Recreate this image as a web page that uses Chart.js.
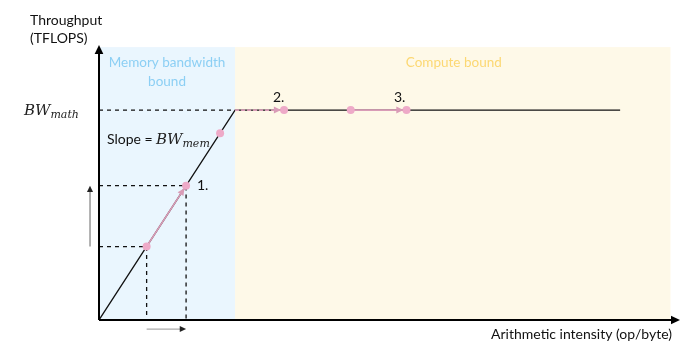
<!DOCTYPE html>
<html lang="en">
<head>
  <meta charset="UTF-8" />
  <title>Roofline</title>
  <script src="https://cdn.jsdelivr.net/npm/chart.js"></script>
  <style>
    body { margin: 0; background: #ffffff; }
    #wrap { width: 700px; height: 355px; }
  </style>
</head>
<body>
  <div id="wrap"><canvas id="roofline"></canvas></div>

  <script>
    // --- data (in chart units: ridge point at x = 10, BW_math = 10) ---
    const roofX = [0, 10, 38.3];
    const roofY = [0, 10, 10];

    const pointX = [3.5, 6.4, 8.9, 13.6, 18.5, 22.6];
    const pointY = [3.5, 6.4, 8.9, 10, 10, 10];

    // pink "move" arrows: from -> to
    const moveFromX = [3.5, 10, 18.5];
    const moveFromY = [3.5, 10, 10];
    const moveToX = [6.4, 13.6, 22.6];
    const moveToY = [6.4, 10, 10];

    // dashed guide lines (null = gap)
    const guideX = [0, 3.5, 3.5, 0, 0, 6.4, 6.4, 0, 0, 10];
    const guideY = [3.5, 3.5, 0, null, 6.4, 6.4, 0, null, 10, 10];

    const regionEdges = [0, 10, 42];
    const regionTop = 13;

    const stepLabels = ["1.", "2.", "3."];
    const stepX = [7.2, 13.2, 22.1];
    const stepY = [6.4, 10.6, 10.6];

    const xMax = 42.7;
    const yMax = 13.1;

    // --- helpers ---
    const toPts = (xs, ys) => xs.map((x, i) => ({ x: x, y: ys[i] }));
    const pink = "#eeaac8";
    const pinkLine = "#d99cb7";
    const font = "Lato, 'Open Sans', sans-serif";

    function arrowHead(ctx, x1, y1, x2, y2, size, color, back) {
      const a = Math.atan2(y2 - y1, x2 - x1);
      const tx = x2 - Math.cos(a) * back, ty = y2 - Math.sin(a) * back;
      ctx.save();
      ctx.fillStyle = color;
      ctx.beginPath();
      ctx.moveTo(tx, ty);
      ctx.lineTo(tx - size * Math.cos(a - 0.45), ty - size * Math.sin(a - 0.45));
      ctx.lineTo(tx - size * Math.cos(a + 0.45), ty - size * Math.sin(a + 0.45));
      ctx.closePath();
      ctx.fill();
      ctx.restore();
    }

    function mathText(ctx, base, sub, x, y, size) {
      ctx.save();
      ctx.textBaseline = "alphabetic";
      ctx.textAlign = "left";
      ctx.fillStyle = "#222";
      ctx.font = "italic " + size + "px 'DejaVu Serif', serif";
      ctx.fillText(base, x, y);
      const w = ctx.measureText(base).width;
      ctx.font = "italic " + Math.round(size * 0.72) + "px 'DejaVu Serif', serif";
      ctx.fillText(sub, x + w, y + 3);
      ctx.restore();
    }

    const rooflinePlugin = {
      id: "rooflineDeco",
      beforeDatasetsDraw(chart) {
        const { ctx, scales: { x, y } } = chart;
        const cols = ["#eaf6fe", "#fef9e8"];
        for (let i = 0; i < regionEdges.length - 1; i++) {
          const l = x.getPixelForValue(regionEdges[i]);
          const r = x.getPixelForValue(regionEdges[i + 1]);
          const t = y.getPixelForValue(regionTop);
          const b = y.getPixelForValue(0);
          ctx.fillStyle = cols[i];
          ctx.fillRect(l, t, r - l, b - t);
        }
      },
      afterDatasetsDraw(chart) {
        const { ctx, scales: { x, y } } = chart;
        const ox = x.getPixelForValue(0), oy = y.getPixelForValue(0);
        const xe = x.getPixelForValue(xMax), ye = y.getPixelForValue(yMax);

        // axes
        ctx.save();
        ctx.strokeStyle = "#000";
        ctx.lineWidth = 2;
        ctx.beginPath();
        ctx.moveTo(ox, oy); ctx.lineTo(ox, ye + 6);
        ctx.moveTo(ox, oy); ctx.lineTo(xe - 6, oy);
        ctx.stroke();
        ctx.restore();
        arrowHead(ctx, ox, oy, ox, ye, 10, "#000", 0);
        arrowHead(ctx, ox, oy, xe, oy, 10, "#000", 0);

        // pink move arrowheads
        for (let i = 0; i < moveToX.length; i++) {
          arrowHead(ctx,
            x.getPixelForValue(moveFromX[i]), y.getPixelForValue(moveFromY[i]),
            x.getPixelForValue(moveToX[i]), y.getPixelForValue(moveToY[i]),
            8, pinkLine, 3);
        }

        // gray direction arrows
        arrowHead(ctx, ox - 9, y.getPixelForValue(3.5), ox - 9, y.getPixelForValue(6.4), 7, "#222", 0);
        arrowHead(ctx, x.getPixelForValue(3.5), oy + 9, x.getPixelForValue(6.4), oy + 9, 7, "#222", 0);

        // texts
        ctx.save();
        ctx.fillStyle = "#111";
        ctx.font = "14px " + font;
        ctx.textAlign = "left";
        ctx.textBaseline = "middle";
        ctx.fillText("Throughput", ox - 69, 20);
        ctx.fillText("(TFLOPS)", ox - 69, 38);
        ctx.textAlign = "right";
        ctx.fillText("Arithmetic intensity (op/byte)", xe - 8, oy + 14);

        ctx.textAlign = "left";
        ctx.fillText("Slope = ", ox + 8, 139);
        for (let i = 0; i < stepLabels.length; i++) {
          ctx.textAlign = i === 0 ? "left" : "center";
          ctx.fillText(stepLabels[i], x.getPixelForValue(stepX[i]), y.getPixelForValue(stepY[i]));
        }

        ctx.font = "13.5px " + font;
        ctx.textAlign = "center";
        ctx.fillStyle = "#8ccff4";
        const mid1 = (x.getPixelForValue(regionEdges[0]) + x.getPixelForValue(regionEdges[1])) / 2;
        ctx.fillText("Memory bandwidth", mid1, 63);
        ctx.fillText("bound", mid1, 82);
        ctx.fillStyle = "#fcd873";
        const mid2 = (x.getPixelForValue(regionEdges[1]) + x.getPixelForValue(regionEdges[2])) / 2;
        ctx.fillText("Compute bound", mid2 + 1, 63);
        ctx.restore();

        mathText(ctx, "BW", "math", 24, 115, 15);
        mathText(ctx, "BW", "mem", ox + 57, 144, 15);
      }
    };

    // Chart.js draws the first dataset on top, so the markers come first
    const ctxRoof = document.getElementById("roofline").getContext("2d");
    new Chart(ctxRoof, {
      type: "scatter",
      data: {
        datasets: [
          {
            label: "points",
            data: toPts(pointX, pointY),
            showLine: false,
            pointRadius: 4,
            pointBackgroundColor: pink,
            pointBorderColor: pink,
            pointBorderWidth: 0
          },
          ...moveFromX.map((fx, i) => ({
            label: "move" + i,
            data: [{ x: fx, y: moveFromY[i] }, { x: moveToX[i], y: moveToY[i] }],
            showLine: true,
            borderColor: pinkLine,
            borderWidth: 1.6,
            borderDash: i === 1 ? [4, 2] : [],
            pointRadius: 0
          })),
          {
            label: "roofline",
            data: toPts(roofX, roofY),
            showLine: true,
            borderColor: "#111",
            borderWidth: 1.3,
            pointRadius: 0
          },
          {
            label: "guides",
            data: toPts(guideX, guideY),
            showLine: true,
            spanGaps: false,
            borderColor: "#111",
            borderWidth: 1.3,
            borderDash: [4, 4],
            pointRadius: 0
          },
          {
            label: "dirY",
            data: [{ x: -0.66, y: 3.5 }, { x: -0.66, y: 6.2 }],
            showLine: true,
            clip: false,
            borderColor: "#888",
            borderWidth: 1.3,
            pointRadius: 0
          },
          {
            label: "dirX",
            data: [{ x: 3.5, y: -0.43 }, { x: 6.2, y: -0.43 }],
            showLine: true,
            clip: false,
            borderColor: "#aaa",
            borderWidth: 1.3,
            pointRadius: 0
          }
        ]
      },
      options: {
        responsive: true,
        maintainAspectRatio: false,
        animation: false,
        layout: { padding: { left: 99, right: 20, top: 45, bottom: 35 } },
        plugins: { legend: { display: false }, tooltip: { enabled: false } },
        scales: {
          x: { type: "linear", min: 0, max: xMax, display: false },
          y: { type: "linear", min: 0, max: yMax, display: false }
        }
      },
      plugins: [rooflinePlugin]
    });
  </script>
</body>
</html>
